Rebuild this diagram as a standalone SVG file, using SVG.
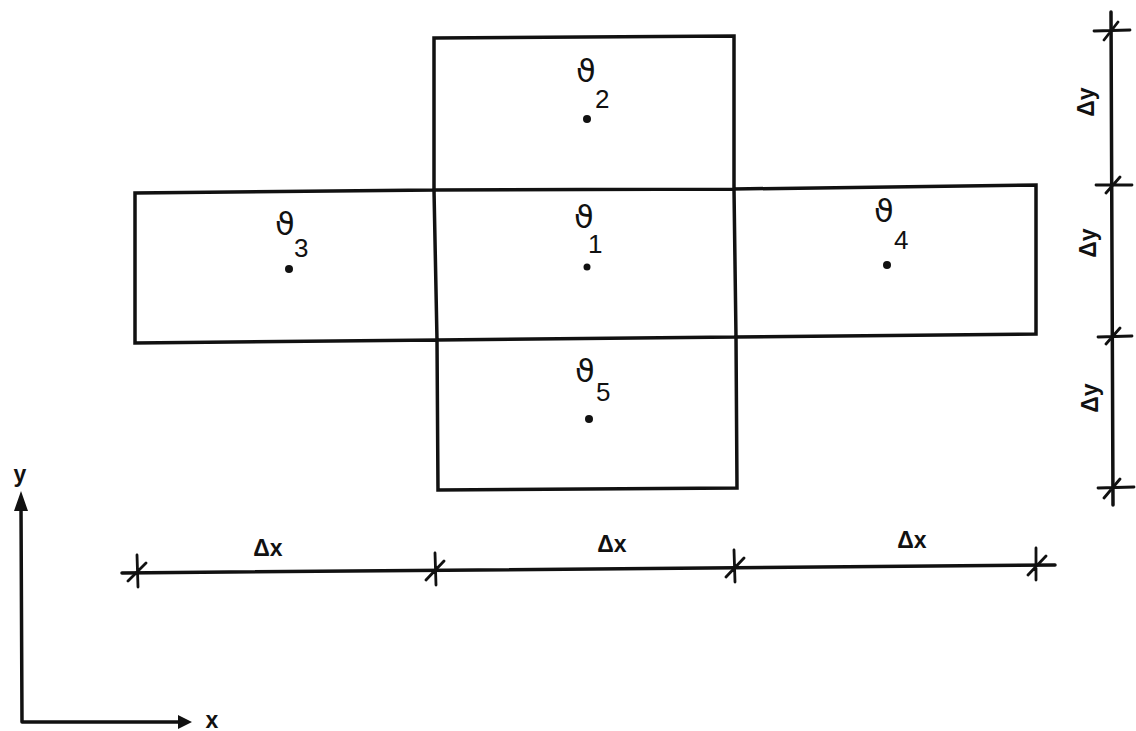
<svg xmlns="http://www.w3.org/2000/svg" width="1136" height="731" viewBox="0 0 1136 731">
<defs>
<style>
.ln{stroke:#111;stroke-width:3.5;fill:none;stroke-linecap:round}
.tk{stroke:#111;stroke-width:2.8;fill:none;stroke-linecap:round}
.th{font-family:"DejaVu Sans","Liberation Sans",sans-serif;font-size:32px;fill:#111}
.sb{font-family:"Liberation Sans",sans-serif;font-size:26px;fill:#111}
.lb{font-family:"Liberation Sans",sans-serif;font-size:23px;font-weight:bold;fill:#111}
.dt{fill:#111}
</style>
</defs>
<rect width="1136" height="731" fill="#fff"/>
<g id="cells" class="ln">
<path d="M434,38 L734,36 L734,189 L1036,185 L1036,334 L736,337 L737,488 L438,490 L437,340 L135,343 L135,193 L434,190 Z"/>
<path d="M434,190 L734,189 M437,340 L736,337 M434,190 L437,340 M734,189 L736,337"/>
</g>
<g id="cell2"><text class="th" x="576" y="82">ϑ</text><text class="sb" x="595" y="108">2</text><circle class="dt" cx="587" cy="119" r="4"/></g>
<g id="cell3"><text class="th" x="275" y="235">ϑ</text><text class="sb" x="294" y="257">3</text><circle class="dt" cx="289" cy="269" r="4"/></g>
<g id="cell1"><text class="th" x="574" y="228">ϑ</text><text class="sb" x="588" y="253">1</text><circle class="dt" cx="587" cy="267" r="3.5"/></g>
<g id="cell4"><text class="th" x="874" y="222">ϑ</text><text class="sb" x="894" y="249">4</text><circle class="dt" cx="887" cy="265" r="4"/></g>
<g id="cell5"><text class="th" x="575" y="382">ϑ</text><text class="sb" x="596" y="401">5</text><circle class="dt" cx="589" cy="419" r="4"/></g>
<g id="dim-y">
<path class="ln" d="M1111,12 L1113,505"/>
<path class="tk" d="M1094,31 L1130,30 M1104,40 L1118,22 M1096,185 L1132,185 M1106,193 L1120,177 M1098,337 L1132,336 M1106,344 L1120,328 M1098,488 L1134,487 M1104,498 L1120,479"/>
<text class="lb" transform="translate(1094,102) rotate(-90)" text-anchor="middle">Δy</text>
<text class="lb" transform="translate(1096,243) rotate(-90)" text-anchor="middle">Δy</text>
<text class="lb" transform="translate(1098,398) rotate(-90)" text-anchor="middle">Δy</text>
</g>
<g id="dim-x">
<path class="ln" d="M122,573 L1055,565"/>
<path class="tk" d="M137,555 L138,587 M128,581 L146,563 M435,553 L436,585 M426,580 L444,561 M734,550 L735,582 M726,577 L744,558 M1036,548 L1036,580 M1028,575 L1046,556"/>
<text class="lb" x="268" y="556" text-anchor="middle">Δx</text>
<text class="lb" x="612" y="552" text-anchor="middle">Δx</text>
<text class="lb" x="912" y="548" text-anchor="middle">Δx</text>
</g>
<g id="axes">
<path class="ln" d="M22,722 L21,506 M22,722 L180,722"/>
<path d="M14,511 L21,491 L28,511 Z M178,715 L192,722 L178,729 Z" fill="#111"/>
<text class="lb" x="20" y="482" text-anchor="middle">y</text>
<text class="lb" x="212" y="728" text-anchor="middle">x</text>
</g>
</svg>
